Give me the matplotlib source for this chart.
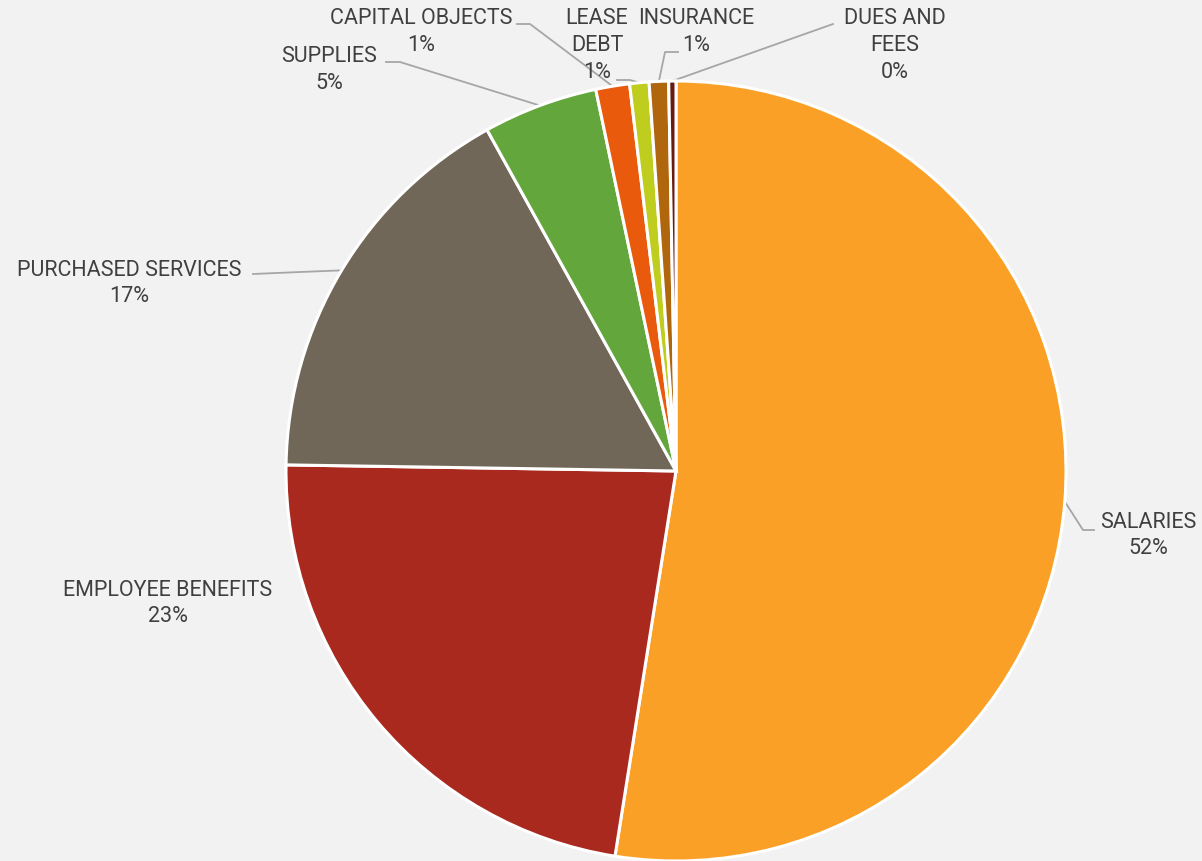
import numpy as np
import matplotlib.pyplot as plt

# category shares (percent of total expenses)
categories = ["SALARIES", "EMPLOYEE BENEFITS", "PURCHASED SERVICES", "SUPPLIES",
              "CAPITAL OBJECTS", "LEASE DEBT", "INSURANCE", "DUES AND FEES"]
shares = [52.5, 22.75, 16.7, 4.75, 1.4, 0.8, 0.8, 0.3]
pct_labels = ["52%", "23%", "17%", "5%", "1%", "1%", "1%", "0%"]
label_text = ["SALARIES", "EMPLOYEE BENEFITS", "PURCHASED SERVICES", "SUPPLIES",
              "CAPITAL OBJECTS", "LEASE\nDEBT", "INSURANCE", "DUES AND\nFEES"]
colors = ["#FBA026", "#A9291E", "#716759", "#63A63B",
          "#E95A0C", "#BECD1E", "#B0660C", "#6A1A10"]

W, H = 1202, 862
cx, cy, R = 676, H - 472, 390

plt.rcParams['font.family'] = ['Roboto', 'DejaVu Sans']

fig = plt.figure(figsize=(W / 100, H / 100), dpi=100, facecolor="#F2F2F2")
ax = fig.add_axes([0, 0, 1, 1])
ax.set_facecolor("#F2F2F2")

wedges, _ = ax.pie(shares, colors=colors, startangle=90, counterclock=False,
                   center=(cx, cy), radius=R,
                   wedgeprops=dict(edgecolor="white", linewidth=2.2))
ax.set_xlim(0, W)
ax.set_ylim(0, H)
ax.set_aspect("equal")
ax.axis("off")

# label layout in pixel coords (top origin): first line center, leader elbow, leader end
layout = {
    "SALARIES": ((1148, 522), (1083, 531), (1094, 531)),
    "EMPLOYEE BENEFITS": ((168, 590), None, None),
    "PURCHASED SERVICES": ((129, 270), (300, 273), (253, 275)),
    "SUPPLIES": ((329, 56), (400, 63), (386, 63)),
    "CAPITAL OBJECTS": ((421, 18), (530, 25), (517, 25)),
    "LEASE DEBT": ((597, 18), (630, 81), (617, 81)),
    "INSURANCE": ((696, 18), (665, 53), (678, 53)),
    "DUES AND FEES": ((895, 18), (833, 25), (833, 25)),
}
line_step = 27

txt_kw = dict(ha="center", va="center", fontsize=15.5, color="#404040")
for w, cat, txt, pct in zip(wedges, categories, label_text, pct_labels):
    (tx, ty), elbow, end = layout[cat]
    for k, line in enumerate(txt.split("\n") + [pct]):
        ax.text(tx, H - (ty + k * line_step), line, **txt_kw)
    if elbow is None:
        continue
    mid = np.deg2rad((w.theta1 + w.theta2) / 2)
    ax_x, ax_y = cx + R * np.cos(mid), cy + R * np.sin(mid)
    xs = [ax_x, elbow[0], end[0]]
    ys = [ax_y, H - elbow[1], H - end[1]]
    ax.plot(xs, ys, color="#A6A6A6", lw=1.3, zorder=0.5)

fig.savefig("out.png", dpi=100, facecolor=fig.get_facecolor())
